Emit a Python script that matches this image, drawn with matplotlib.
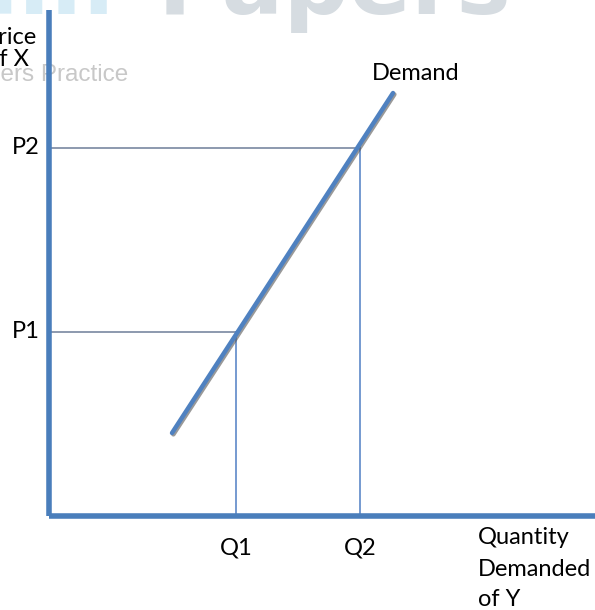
import matplotlib.pyplot as plt
import matplotlib.patheffects as pe

# demand curve end points (quantity, price)
demand_q = [123, 344]
demand_p = [83, 423]

# the two marked points on the curve
q_ticks = [187, 311]
p_ticks = [184, 368]
q_labels = ['Q1', 'Q2']
p_labels = ['P1', 'P2']

axis_blue = '#4a7ebb'
guide_blue = '#4f7fc4'
guide_grey = '#6d7d99'
font = 'Lato'
fs = 17

fig = plt.figure(figsize=(5.95, 6.10), dpi=100)
ax = fig.add_axes([0, 0, 1, 1])
ax.set_xlim(-49, 546)
ax.set_ylim(-94, 516)
ax.axis('off')

# watermark
ax.text(66, 502, 'Exam', color='#d7ecf6', fontsize=66, fontweight='bold',
        family='DejaVu Sans', ha='right', va='baseline', zorder=0)
ax.text(109, 502, 'Papers', color='#d6dce1', fontsize=66, fontweight='bold',
        family='DejaVu Sans', ha='left', va='baseline', zorder=0)
ax.text(79, 441, 'Exam Papers Practice', color='#c8c8c8', fontsize=17.5,
        family='Liberation Sans', ha='right', va='center', zorder=0)

# guide lines from axes to the curve
for q, p in zip(q_ticks, p_ticks):
    ax.plot([0, q], [p, p], color=guide_grey, lw=1.1, zorder=2)
    ax.plot([q, q], [0, p], color=guide_blue, lw=1.1, zorder=2)

# axes
ax.plot([0, 0], [0, 506], color=axis_blue, lw=4, solid_capstyle='butt', zorder=3)
ax.plot([0, 546], [0, 0], color=axis_blue, lw=4, solid_capstyle='butt', zorder=3)

# demand line
ax.plot(demand_q, demand_p, color='#4f81c0', lw=3.2, solid_capstyle='round', zorder=4,
        path_effects=[pe.SimpleLineShadow(offset=(1, -1), shadow_color='#555555', alpha=0.6),
                      pe.Normal()])

# labels
for q, lab in zip(q_ticks, q_labels):
    ax.text(q, -32, lab, fontsize=fs, family=font, ha='center', va='center')
for p, lab in zip(p_ticks, p_labels):
    ax.text(-9, p, lab, fontsize=fs, family=font, ha='right', va='center')

ax.text(-64, 479, 'Price', fontsize=fs, family=font, ha='left', va='center')
ax.text(-63, 456, 'of X', fontsize=fs, family=font, ha='left', va='center')
ax.text(323, 443, 'Demand', fontsize=fs, family=font, ha='left', va='center')
ax.text(429, -21, 'Quantity', fontsize=fs, family=font, ha='left', va='center')
ax.text(429, -53, 'Demanded', fontsize=fs, family=font, ha='left', va='center')
ax.text(429, -84, 'of Y', fontsize=fs, family=font, ha='left', va='center')

fig.savefig('out.png', dpi=100)
